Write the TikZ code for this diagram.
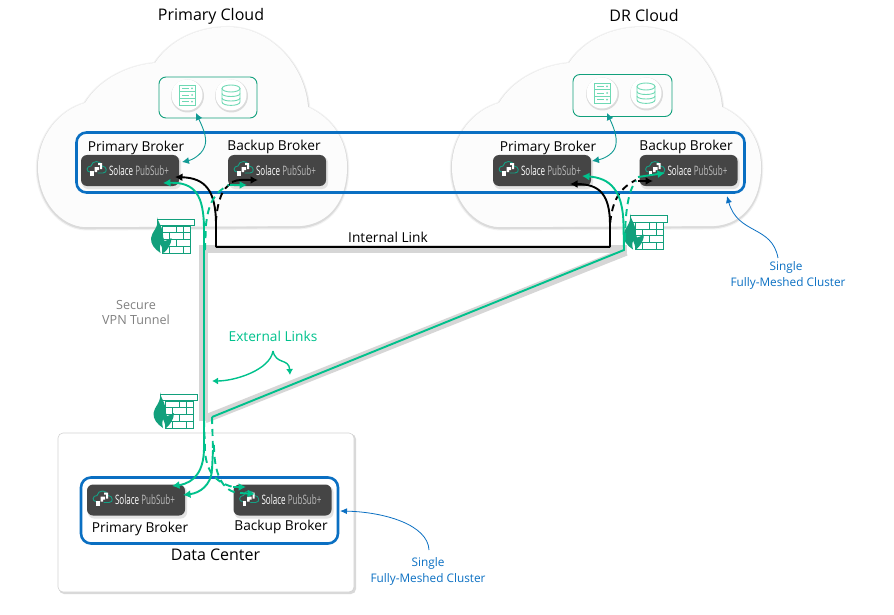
\documentclass[tikz,border=0pt]{standalone}
\usepackage{fontspec}
\usepackage{graphicx}
\setmainfont{Open Sans}
\usetikzlibrary{arrows.meta,calc}
\definecolor{sgreen}{HTML}{00C18C}
\definecolor{fwgreen}{HTML}{12A07C}
\definecolor{iconteal}{HTML}{14A085}
\definecolor{icongreen}{HTML}{6FD9B4}
\definecolor{tealarr}{HTML}{119A94}
\definecolor{clblue}{HTML}{0A6FC2}
\definecolor{brokerbg}{HTML}{454545}
\definecolor{tube}{HTML}{D6D6D6}
\tikzset{
  x=1pt,y=-1pt,
  lbl/.style={font=\fontsize{13.7}{15}\selectfont,inner sep=0pt,text=black},
  titlelbl/.style={font=\fontsize{16}{18}\selectfont,inner sep=0pt,text=black},
  bluelbl/.style={font=\fontsize{11.8}{13}\selectfont,inner sep=0pt,text=clblue},
  graylbl/.style={font=\fontsize{12.6}{14}\selectfont,inner sep=0pt,text=black!50,align=center},
  brokerbox/.style={fill=brokerbg,rounded corners=6pt,minimum width=98pt,minimum height=31pt,inner sep=0pt,
     font=\fontsize{13}{14}\selectfont},
  clusterbox/.style={draw=clblue,line width=2.6pt,rounded corners=10pt,inner sep=0pt},
  storebox/.style={draw=fwgreen,line width=0.9pt,rounded corners=7pt,inner sep=0pt},
  glink/.style={draw=sgreen,line width=1.9pt},
  blink/.style={draw=black,line width=1.9pt},
  gtip/.style={-{Latex[length=7.5pt,width=8pt]}},
  dashy/.style={dash pattern=on 7pt off 5pt},
  tealarrow/.style={draw=tealarr,line width=0.9pt,{Latex[length=7pt,width=7pt]}-{Latex[length=7pt,width=7pt]}},
  bluearrow/.style={draw=clblue,line width=0.8pt,-{Latex[length=7pt,width=6pt]}},
  extarrow/.style={draw=sgreen,line width=1.4pt,-{Latex[length=6pt,width=7pt]}},
}
\newcommand{\cloudpath}{(85,103) .. controls (100,78) and (130,65) .. (155,63)
  .. controls (170,40) and (198,27) .. (228,27) .. controls (270,27) and (305,65) .. (308,107)
  .. controls (332,118) and (347,140) .. (347,167) .. controls (347,200) and (330,224) .. (300,226)
  -- (85,227) .. controls (60,226) and (38,200) .. (38,167) .. controls (38,135) and (60,110) .. (85,103) -- cycle}
\newcommand{\mycloud}[1]{\begin{scope}[xshift=#1pt]
  \begin{scope}[yshift=-1.2pt]
  \draw[gray!10,line width=4.5pt,line join=round] \cloudpath;
  \draw[gray!28,line width=2.2pt,line join=round] \cloudpath;
  \end{scope}
  \fill[white!99!black] \cloudpath;
\end{scope}}
\newcommand{\logo}[2]{\begin{scope}[shift={(#1,#2)}]
  \draw[iconteal,line width=0.9pt,line cap=round] (9,17) .. controls (5,17) and (5,11) .. (10,11)
     .. controls (11,5) and (20,5) .. (21,11) .. controls (26,11) and (27,18) .. (22,18) -- (17,18);
  \fill[white] (9,16) rectangle (12.5,21);
  \fill[white] (13.5,12) -- (18,12) -- (18,15) -- (16,15) -- (16,17) -- (13.5,17) -- cycle;
  \fill[white] (17,8) -- (21,8) -- (21,14) -- (19,14) -- (19,10) -- (17,10) -- cycle;
\end{scope}}
\newcommand{\broker}[3]{%
  \fill[gray!22,rounded corners=6pt] (#2-49+1,#3-15.5+1.5) rectangle (#2+49+2,#3+15.5+3);
  \node[brokerbox] (#1) at (#2,#3) {\hspace*{18pt}\scalebox{0.62}[1]{\textcolor{white}{Solace} \textcolor{gray!55}{PubSub+}}};
  \logo{#2-49}{#3-15.5}}
\newcommand{\iconcircle}[2]{%
  \fill[gray!28] (#1+0.5,#2+1) circle[radius=16.5];
  \fill[white] (#1,#2) circle[radius=15.5];}
\newcommand{\servericon}[2]{\iconcircle{#1}{#2}
  \begin{scope}[shift={(#1,#2)},icongreen,line width=0.9pt]
    \draw (-8,-10) rectangle (8,10);
    \draw (-8,-3.3) -- (8,-3.3) (-8,3.3) -- (8,3.3);
    \draw (-5,-6.7) -- (2,-6.7) (-5,0) -- (2,0) (-5,6.7) -- (2,6.7);
    \fill (5,-6.7) circle[radius=1] (5,0) circle[radius=1] (5,6.7) circle[radius=1];
  \end{scope}}
\newcommand{\dbicon}[2]{\iconcircle{#1}{#2}
  \begin{scope}[shift={(#1,#2)},icongreen,line width=0.9pt]
    \draw (0,-6.5) ellipse[x radius=9,y radius=3.5];
    \draw (-9,-6.5) -- (-9,7) .. controls (-9,11.5) and (9,11.5) .. (9,7) -- (9,-6.5);
    \draw (-9,-1.5) .. controls (-9,2.5) and (9,2.5) .. (9,-1.5);
    \draw (-9,3) .. controls (-9,7) and (9,7) .. (9,3);
  \end{scope}}
\newcommand{\fwall}[2]{\begin{scope}[shift={(#1,#2)}]
  \begin{scope}[draw=fwgreen,line width=1pt]
    \fill[white] (5,7) rectangle (33,34);
    \draw (5,7) rectangle (33,34);
    \fill[white] (0,0) rectangle (37,6.5);
    \draw (0,0) rectangle (37,6.5);
    \draw (5,13.5) -- (33,13.5) (5,20) -- (33,20) (5,27) -- (33,27);
    \draw (19,7) -- (19,13.5) (12,13.5) -- (12,20) (26,13.5) -- (26,20) (19,20) -- (19,27) (12,27) -- (12,34) (26,27) -- (26,34) (26,7) -- (26,13.5);
  \end{scope}
  \fill[fwgreen] (0,-2) .. controls (0,2) and (4,7) .. (5,12)
     .. controls (6,17) and (5,20) .. (7,22) .. controls (10,22) and (11,20) .. (14,19)
     .. controls (14,25) and (10,31) .. (6,34) .. controls (5,30) and (4,27) .. (3,25)
     .. controls (2,29) and (2,32) .. (3,34)
     .. controls (-3,30) and (-7,25) .. (-6.5,19) .. controls (-6,13) and (2,8) .. (0,-2) -- cycle;
\end{scope}}
\begin{document}
\begin{tikzpicture}
\useasboundingbox (0,0) rectangle (894,615);
% clouds
\mycloud{0}
\mycloud{414}
% data center
\fill[gray!30,rounded corners=5pt] (59,434) rectangle (356,594);
\node[draw=gray!35,fill=white,line width=0.6pt,rounded corners=5pt,inner sep=0pt,minimum width=296pt,minimum height=159pt] (dc) at (206,512.5) {};
% VPN tube
\coordinate (tubeBot) at (203.5,421);
\coordinate (tubeTop) at (203.5,249);
\coordinate (tubeRight) at (627,249);
\coordinate (tubeJoin) at (205,419);
\draw[tube,line width=8.5pt,line join=miter] (tubeBot) -- (tubeTop) -- (tubeRight);
\draw[tube,line width=8.5pt] (tubeJoin) -- (626,251.5);
% firewalls
\fwall{157.5}{219}
\fwall{630}{215.5}
\fwall{160}{394}
% cluster boxes
\node[clusterbox,minimum width=668pt,minimum height=60pt] (clusterTop) at (410.5,162.5) {};
\node[clusterbox,minimum width=257pt,minimum height=66pt] (clusterDC) at (209.5,510.5) {};
% storage boxes
\node[storebox,minimum width=98pt,minimum height=41pt] (storeP) at (208,97.5) {};
\node[storebox,minimum width=99pt,minimum height=42pt] (storeD) at (622.5,95.5) {};
\servericon{187}{95}
\dbicon{231}{95}
\servericon{602}{93}
\dbicon{646}{93}
% brokers
\broker{pp}{130}{170.5}
\broker{pb}{277}{170.5}
\broker{dp}{542}{170.5}
\broker{db}{688.5}{170.5}
\broker{cp}{136}{500}
\broker{cb}{282.5}{500}
% labels
\node[titlelbl] (tPrimary) at (211,16.5) {Primary Cloud};
\node[titlelbl] (tDR) at (644,15.5) {DR Cloud};
\node[titlelbl] (tDC) at (215.5,554.5) {Data Center};
\node[lbl] (l1) at (136,147.5) {Primary Broker};
\node[lbl] (l2) at (274,146.5) {Backup Broker};
\node[lbl] (l3) at (548,147.5) {Primary Broker};
\node[lbl] (l4) at (686,146.5) {Backup Broker};
\node[lbl] (l5) at (140,529) {Primary Broker};
\node[lbl] (l6) at (281,527) {Backup Broker};
\node[lbl] (lInt) at (388,237) {Internal Link};
\node[graylbl] (lVpn) at (136,312) {Secure\\[1pt]VPN Tunnel};
\node[font=\fontsize{13.7}{15}\selectfont,inner sep=0pt,text=sgreen] (lExt) at (273,336) {External Links};
\node[bluelbl] (lS1) at (786,267) {Single};
\node[bluelbl] (lS2) at (788,283) {Fully-Meshed Cluster};
\node[bluelbl] (lS3) at (428,563) {Single};
\node[bluelbl] (lS4) at (428,579) {Fully-Meshed Cluster};
% connector ends
\coordinate (blkL) at (216,247);
\coordinate (blkR) at (610,247);
\coordinate (tipPPb) at (175,177);
\coordinate (tipPBb) at (258,180);
\coordinate (tipPPg) at (163,183);
\coordinate (tipPBg) at (247,185);
\coordinate (tipDPb) at (570,184);
\coordinate (tipDBb) at (653,181);
\coordinate (tipDPg) at (582,176);
\coordinate (tipDBg) at (665,173);
\coordinate (gTop) at (204,418);
\coordinate (gDiagL) at (212,417);
\coordinate (gDiagR) at (624,250);
\coordinate (tipCP1) at (172,486);
\coordinate (tipCP2) at (183,495);
\coordinate (tipCB1) at (246,487);
\coordinate (tipCB2) at (255,494);
% black links
\draw[blink] (blkL) -- (blkR);
\draw[blink,gtip] (blkL) -- (216,225) .. controls (216,190) and (205,178) .. (tipPPb);
\draw[blink,dashy] (blkL) -- (216,220) .. controls (218,200) and (222,188) .. (232,183);
\draw[blink,gtip] (232,182) .. controls (238,179) and (246,180) .. (tipPBb);
\draw[blink,gtip] (blkR) -- (610,225) .. controls (610,195) and (600,184) .. (tipDPb);
\draw[blink,dashy] (blkR) -- (610,225) .. controls (612,200) and (620,188) .. (636,180);
\draw[blink,gtip] (638,181) -- (tipDBb);
% green links
\draw[glink,gtip] (gTop) -- (204,230) .. controls (204,195) and (195,182) .. (tipPPg);
\draw[glink,dashy] (205,250) -- (206,225) .. controls (208,205) and (214,192) .. (229,185);
\draw[glink,gtip] (230,185) -- (tipPBg);
\draw[glink] (gDiagL) -- (gDiagR) -- (623.5,225);
\draw[glink,gtip] (623.5,225) .. controls (623,190) and (610,178) .. (tipDPg);
\draw[glink,dashy] (625,240) .. controls (625,215) and (628,190) .. (636,181);
\draw[glink,gtip] (638,177) -- (tipDBg);
\draw[glink,gtip] (gTop) -- (204,448) .. controls (204,470) and (195,483) .. (tipCP1);
\draw[glink,dashy] (gDiagL) -- (213,450);
\draw[glink,gtip] (213,450) -- (212,470) .. controls (211,485) and (200,493) .. (tipCP2);
\draw[glink,dashy] (204,420) -- (205,450) .. controls (206,470) and (214,482) .. (233,487);
\draw[glink,gtip] (233,487) -- (tipCB1);
\draw[glink,dashy] (214,445) .. controls (214,465) and (218,490) .. (238,493);
\draw[glink,gtip] (240,493) -- (tipCB2);
% store links
\draw[tealarrow] (196,113) .. controls (204,130) and (208,140) .. (204,148) .. controls (201,155) and (192,160) .. (182,162);
\draw[tealarrow] (607,113) .. controls (615,130) and (618,140) .. (615,148) .. controls (612,155) and (603,159) .. (592,161);
% external links arrows
\coordinate (extS) at (273,351);
\coordinate (extA) at (212,381);
\coordinate (extB) at (290,375);
\draw[extarrow] (extS) .. controls (270,370) and (235,381) .. (extA);
\draw[extarrow] (extS) .. controls (276,365) and (289,358) .. (extB);
% blue pointers
\coordinate (bluT) at (778,258);
\coordinate (bluB) at (429,550);
\draw[bluearrow] (bluT) .. controls (772,225) and (738,235) .. (727,196);
\draw[bluearrow] (bluB) .. controls (428,525) and (385,512) .. (340,511);
\end{tikzpicture}
\end{document}
